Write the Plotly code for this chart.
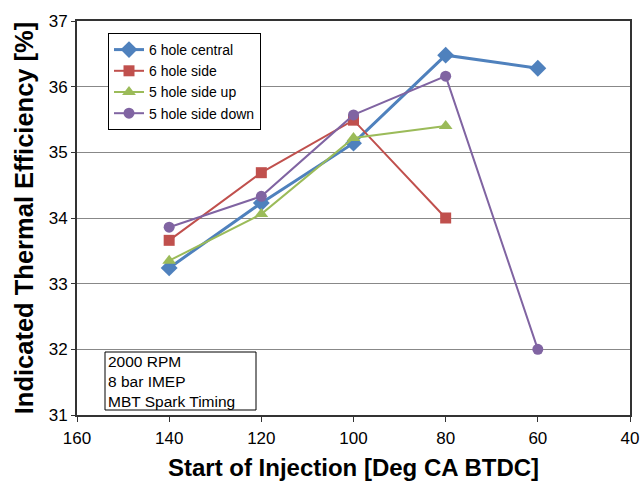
import plotly.graph_objects as go

# Start of injection timings (deg CA BTDC)
soi_a = [140, 120, 100, 80, 60]
soi_b = [140, 120, 100, 80]

# Indicated thermal efficiency (%) per injector configuration
central_6 = [33.24, 34.23, 35.14, 36.48, 36.28]
side_6 = [33.66, 34.69, 35.49, 34.00]
side_up_5 = [33.35, 34.06, 35.22, 35.40]
side_down_5 = [33.86, 34.33, 35.57, 36.16, 32.00]

x_ticks = [160, 140, 120, 100, 80, 60, 40]
y_ticks = [31, 32, 33, 34, 35, 36, 37]

conditions = ["2000 RPM", "8 bar IMEP", "MBT Spark Timing"]

W, H = 644, 481
M_L, M_R, M_T, M_B = 77, 14, 21, 66
plot_w = W - M_L - M_R
plot_h = H - M_T - M_B


def px_x(px):
    """Pixel column to paper x coordinate."""
    return (px - M_L) / plot_w


def px_y(px):
    """Pixel row (from top of page) to paper y coordinate."""
    return (H - M_B - px) / plot_h


fig = go.Figure()

series = [
    ("6 hole central", soi_a, central_6, "#4F81BD", "diamond", 13, 3),
    ("6 hole side", soi_b, side_6, "#C0504D", "square", 11, 2),
    ("5 hole side up", soi_b, side_up_5, "#9BBB59", "triangle-up", 12, 2),
    ("5 hole side down", soi_a, side_down_5, "#8064A2", "circle", 11, 2),
]
for name, xs, ys, color, symbol, size, width in series:
    fig.add_trace(go.Scatter(
        x=xs, y=ys, name=name, mode="lines+markers",
        line=dict(color=color, width=width),
        marker=dict(symbol=symbol, size=size, color=color),
    ))

# Operating-condition box in the lower-left corner
fig.add_shape(type="rect", xref="paper", yref="paper",
              x0=px_x(105), x1=px_x(256), y0=px_y(410), y1=px_y(352),
              line=dict(color="#000", width=1), fillcolor="white", layer="above")
fig.add_annotation(
    x=px_x(107), y=px_y(381), xref="paper", yref="paper",
    xanchor="left", yanchor="middle", align="left",
    text="<br>".join(conditions), showarrow=False, borderpad=0,
    font=dict(family="Liberation Sans, Arial", size=15.5, color="#000"),
)

axis_font = dict(family="Liberation Sans, Arial", size=17, color="#000")

fig.update_layout(
    width=W, height=H,
    margin=dict(l=M_L, r=M_R, t=M_T, b=M_B, autoexpand=False),
    plot_bgcolor="white", paper_bgcolor="white",
    showlegend=True,
    legend=dict(
        x=px_x(108), y=px_y(33), xanchor="left", yanchor="top",
        bgcolor="white", bordercolor="#000", borderwidth=1,
        font=dict(family="Liberation Sans, Arial", size=14, color="#000"),
        tracegroupgap=0, itemwidth=30,
    ),
    xaxis=dict(
        range=[160, 40], tickvals=x_ticks, showgrid=False, automargin=False,
        showline=True, linecolor="#333", linewidth=2, mirror=True,
        ticks="outside", ticklen=5, tickcolor="#333",
        tickfont=axis_font, ticklabelstandoff=2,
        title=dict(text="<b>Start of Injection [Deg CA BTDC]</b>",
                   font=dict(family="Liberation Sans, Arial", size=24, color="#000"),
                   standoff=12),
    ),
    yaxis=dict(
        range=[31, 37], tickvals=y_ticks, showgrid=True, gridcolor="#888", gridwidth=1,
        automargin=False,
        showline=True, linecolor="#333", linewidth=2, mirror=True,
        ticks="outside", ticklen=4, tickcolor="#333",
        tickfont=axis_font,
        title=dict(text="<b>Indicated Thermal Efficiency [%]</b>",
                   font=dict(family="Liberation Sans, Arial", size=25.5, color="#000"),
                   standoff=8),
        zeroline=False,
    ),
)

fig.write_html("out.html")
